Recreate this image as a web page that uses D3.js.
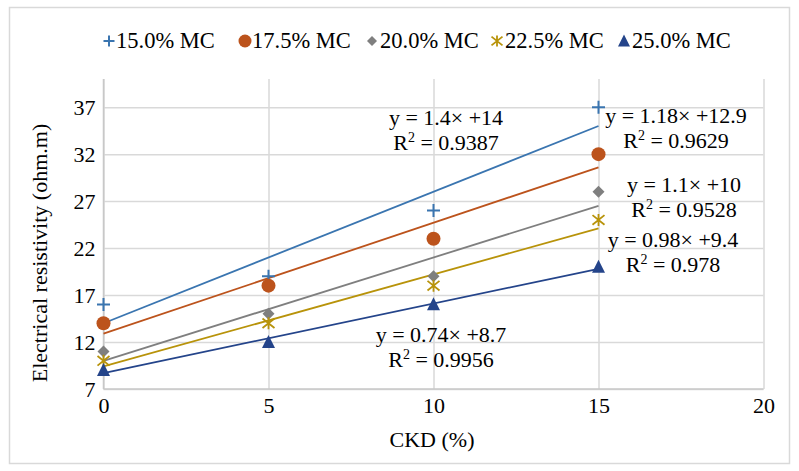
<!DOCTYPE html>
<html><head><meta charset="utf-8">
<script src="https://cdn.jsdelivr.net/npm/d3@7"></script>
<style>
html,body{margin:0;padding:0;background:#fff;}
svg{display:block;}
text{font-family:"Liberation Serif","Times New Roman",serif;fill:#000;}
</style></head>
<body>
<script>
// ---- data ----
const ckd = [0, 5, 10, 15];
const seriesNames = ["15.0% MC", "17.5% MC", "20.0% MC", "22.5% MC", "25.0% MC"];
const mc15 = [16, 19, 26, 37];
const mc175 = [14, 18, 23, 32];
const mc20 = [11, 15, 19, 28];
const mc225 = [10, 14, 18, 25];
const mc25 = [9, 12, 16, 20];
const xTicks = [0, 5, 10, 15, 20];
const yTicks = [7, 12, 17, 22, 27, 32, 37];
const eqTexts = ["y = 1.4× +14", "y = 1.18× +12.9", "y = 1.1× +10", "y = 0.98× +9.4", "y = 0.74× +8.7"];
const r2Texts = ["0.9387", "0.9629", "0.9528", "0.978", "0.9956"];

// ---- layout / style ----
const W = 799, H = 471;
const colors = ["#3A75B0", "#BC531C", "#7F7F7F", "#B8930A", "#24448A"];
const shapes = ["plus", "circle", "diamond", "star", "triangle"];
const eqPos = [[446,125],[676,123],[684,192],[673,247],[441,342]];
const legendX = [109, 245, 372, 497, 624];
const legendTextX = [116, 252, 380, 505, 632];
const allSeries = [mc15, mc175, mc20, mc225, mc25];

const svg = d3.select("body").append("svg").attr("width", W).attr("height", H);
svg.append("rect").attr("x", 9.5).attr("y", 7.5).attr("width", 780).attr("height", 456)
  .attr("fill", "#fff").attr("stroke", "#d9d9d9").attr("stroke-width", 1.5);

const x = d3.scaleLinear().domain([0, 20]).range([103.5, 763.5]);
const y = d3.scaleLinear().domain([7, 40]).range([389, 79]);

const fs = 22;
const legFs = 22.5;
// x axis with vertical grid
const gx = svg.append("g").attr("transform", `translate(0,${y(7)})`)
  .call(d3.axisBottom(x).tickValues(xTicks).tickSize(-(y(7) - y(40))).tickPadding(8).tickFormat(d3.format("d")));
gx.select(".domain").remove();
gx.selectAll("line").attr("stroke", "#d9d9d9").attr("stroke-width", 1.5);
gx.selectAll("text").attr("font-size", fs).attr("font-family", '"Liberation Serif","Times New Roman",serif').attr("fill", "#000");

// y axis with horizontal grid
const gy = svg.append("g").attr("transform", `translate(${x(0)},0)`)
  .call(d3.axisLeft(y).tickValues(yTicks).tickSize(-(x(20) - x(0))).tickPadding(8).tickFormat(d3.format("d")));
gy.select(".domain").remove();
gy.selectAll("line").attr("stroke", "#d9d9d9").attr("stroke-width", 1.5);
gy.selectAll("text").attr("font-size", fs).attr("font-family", '"Liberation Serif","Times New Roman",serif').attr("fill", "#000");

// axis lines
svg.append("line").attr("x1", x(0)).attr("x2", x(20)).attr("y1", y(7)).attr("y2", y(7)).attr("stroke", "#c8c8c8").attr("stroke-width", 1.5);
svg.append("line").attr("x1", x(0)).attr("x2", x(0)).attr("y1", y(7)).attr("y2", y(40)).attr("stroke", "#c8c8c8").attr("stroke-width", 1.5);

// titles
svg.append("text").attr("x", 432).attr("y", 447).attr("text-anchor", "middle").attr("font-size", fs).text("CKD (%)");
svg.append("text").attr("transform", "translate(47,253) rotate(-90)").attr("text-anchor", "middle").attr("font-size", fs)
  .text("Electrical resistivity (ohm.m)");

// trendlines (least squares)
function fit(xs, ys) {
  const mx = d3.mean(xs), my = d3.mean(ys);
  let sxy = 0, sxx = 0;
  xs.forEach((v, i) => { sxy += (v - mx) * (ys[i] - my); sxx += (v - mx) * (v - mx); });
  const b = sxy / sxx; return { b, a: my - b * mx };
}
allSeries.forEach((s, i) => {
  const f = fit(ckd, s);
  const x0 = d3.min(ckd), x1 = d3.max(ckd);
  svg.append("line").attr("x1", x(x0)).attr("y1", y(f.a + f.b * x0)).attr("x2", x(x1)).attr("y2", y(f.a + f.b * x1))
    .attr("stroke", colors[i]).attr("stroke-width", 1.8);
});

// markers
function marker(g, shape, cx, cy, color, s) {
  if (shape === "plus") {
    g.append("path").attr("d", `M${cx - s/2},${cy}H${cx + s/2}M${cx},${cy - s/2}V${cy + s/2}`)
      .attr("stroke", color).attr("stroke-width", 2).attr("fill", "none");
  } else if (shape === "circle") {
    g.append("circle").attr("cx", cx).attr("cy", cy).attr("r", s/2).attr("fill", color);
  } else if (shape === "diamond") {
    g.append("path").attr("d", `M${cx},${cy - s/2}L${cx + s/2},${cy}L${cx},${cy + s/2}L${cx - s/2},${cy}Z`).attr("fill", color);
  } else if (shape === "star") {
    const h = s/2;
    g.append("path").attr("d", `M${cx - h},${cy - h*0.8}L${cx + h},${cy + h*0.8}M${cx + h},${cy - h*0.8}L${cx - h},${cy + h*0.8}M${cx},${cy - h}V${cy + h}`)
      .attr("stroke", color).attr("stroke-width", 1.8).attr("fill", "none");
  } else if (shape === "triangle") {
    g.append("path").attr("d", `M${cx},${cy - s*0.55}L${cx + s/2},${cy + s*0.45}L${cx - s/2},${cy + s*0.45}Z`).attr("fill", color);
  }
}
const sizes = [13, 14, 12, 12, 13];
const mg = svg.append("g");
allSeries.forEach((s, i) => {
  s.forEach((v, j) => marker(mg, shapes[i], x(ckd[j]), y(v), colors[i], sizes[i]));
});

// equation labels
eqTexts.forEach((t, i) => {
  const [cx, by] = eqPos[i];
  svg.append("text").attr("x", cx).attr("y", by).attr("text-anchor", "middle").attr("font-size", fs).text(t);
  const r = svg.append("text").attr("x", cx).attr("y", by + 25).attr("text-anchor", "middle").attr("font-size", fs);
  r.append("tspan").text("R");
  r.append("tspan").attr("font-size", 14).attr("dy", -8).text("2");
  r.append("tspan").attr("dy", 8).text(" = " + r2Texts[i]);
});

// legend
const lg = svg.append("g");
seriesNames.forEach((n, i) => {
  marker(lg, shapes[i], legendX[i], 41, colors[i], [11, 13, 10, 11, 12][i]);
  lg.append("text").attr("x", legendTextX[i]).attr("y", 48).attr("font-size", legFs).text(n);
});
</script>
</body></html>
